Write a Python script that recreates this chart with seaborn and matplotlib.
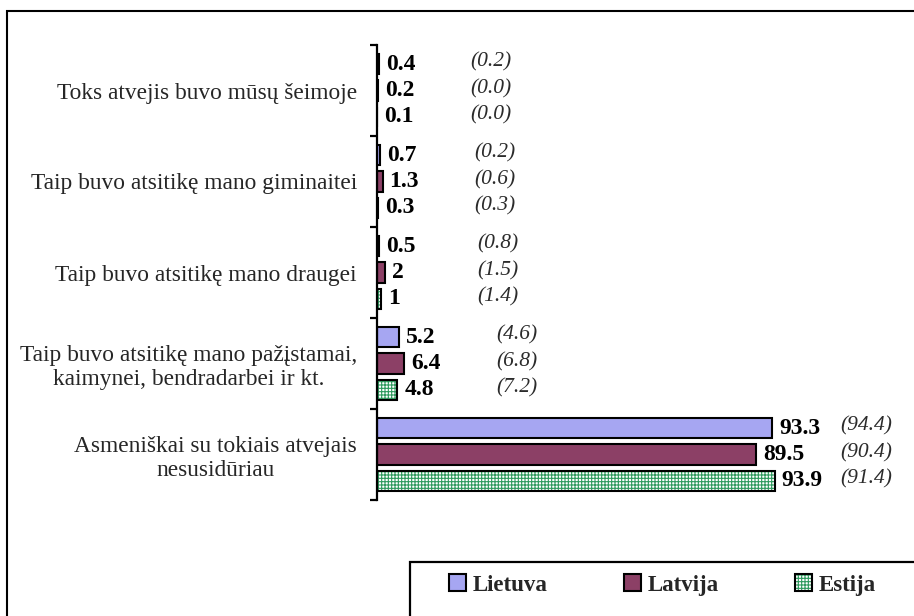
import matplotlib
matplotlib.use("Agg")
import matplotlib.pyplot as plt
from matplotlib.patches import Rectangle, Patch
from matplotlib.legend_handler import HandlerTuple
import seaborn as sns
import pandas as pd

categories = [
    "Toks atvejis buvo mūsų šeimoje",
    "Taip buvo atsitikę mano giminaitei",
    "Taip buvo atsitikę mano draugei",
    "Taip buvo atsitikę mano pažįstamai,\nkaimynei, bendradarbei ir kt.",
    "Asmeniškai su tokiais atvejais\nnesusidūriau",
]
countries = ["Lietuva", "Latvija", "Estija"]
lietuva = [0.4, 0.7, 0.5, 5.2, 93.3]
latvija = [0.2, 1.3, 2, 6.4, 89.5]
estija = [0.1, 0.3, 1, 4.8, 93.9]
prev_lietuva = [0.2, 0.2, 0.8, 4.6, 94.4]
prev_latvija = [0.0, 0.6, 1.5, 6.8, 90.4]
prev_estija = [0.0, 0.3, 1.4, 7.2, 91.4]

colors = {"Lietuva": "#9999FF", "Latvija": "#993366", "Estija": "#FFFFFF"}
hatch_green = "#2E9A5E"

sns.set_style("white")
plt.rcParams["font.family"] = ["Liberation Serif", "DejaVu Serif"]
plt.rcParams["hatch.linewidth"] = 0.8

rows = []
for c, vals in zip(countries, [lietuva, latvija, estija]):
    for cat, v in zip(categories, vals):
        rows.append({"category": cat, "country": c, "value": v})
df = pd.DataFrame(rows)

fig = plt.figure(figsize=(9.14, 6.16), dpi=100)
ax = fig.add_axes([377 / 914, 1 - 500 / 616, 423.4 / 914, 455 / 616])

sns.barplot(data=df, y="category", x="value", hue="country", orient="h",
            order=categories, hue_order=countries, palette=colors,
            width=0.86, gap=0.23, edgecolor="black", linewidth=1.5,
            ax=ax, legend=False)

ax.set_xlim(0, 100)
ax.set_ylim(len(categories) - 0.5, -0.5)

# Estija hatch: green grid with black outline
est_container = ax.containers[2]
for p in est_container.patches:
    p.set_facecolor("white")
    p.set_hatch("+++++")
    p.set_edgecolor(hatch_green)
    p.set_linewidth(0)
    ax.add_patch(Rectangle(p.get_xy(), p.get_width(), p.get_height(),
                           fill=False, ec="black", lw=1.5, zorder=p.get_zorder() + 0.1))

# value labels
for cont, vals in zip(ax.containers, [lietuva, latvija, estija]):
    ax.bar_label(cont, labels=[f"{v:g}" for v in vals], padding=5,
                 fontsize=17, fontweight="bold", color="black")

# previous values in parentheses, aligned per group after the longest bar
group_end = []
for i in range(len(categories)):
    group_end.append(max(c.patches[i].get_x() + c.patches[i].get_width()
                         for c in ax.containers[:3]))
for cont, prev in zip(ax.containers, [prev_lietuva, prev_latvija, prev_estija]):
    for i, (p, pv) in enumerate(zip(cont.patches, prev)):
        yc = p.get_y() + p.get_height() / 2
        off = 47.5 if group_end[i] > 50 else 66
        ax.annotate(f"({pv:.1f})", xy=(group_end[i], yc), xytext=(off, 1.5),
                    textcoords="offset points", ha="left", va="center",
                    fontsize=15.5, fontstyle="italic", color="#2b2b2b")

# axes styling
for s in ["top", "right", "bottom"]:
    ax.spines[s].set_visible(False)
ax.spines["left"].set_linewidth(1.6)
ax.spines["left"].set_color("black")
ax.set_xticks([])
ax.set_xlabel("")
ax.set_ylabel("")
ax.set_yticks(range(len(categories)))
ax.set_yticklabels(categories, fontsize=16.8, multialignment="center",
                   linespacing=1.2)
ax.tick_params(axis="y", which="major", length=0, pad=14.5)
ax.set_yticks([i - 0.5 for i in range(len(categories) + 1)], minor=True)
ax.tick_params(axis="y", which="minor", length=5, width=1.6, color="black",
               direction="out", left=True)

# outer frame
fig.patches.append(Rectangle((7 / 914, -0.1), 1.2, 1 - 11 / 616 + 0.1,
                             transform=fig.transFigure, fill=False,
                             ec="black", lw=1.5, zorder=0))
# legend box
fig.patches.append(Rectangle((410 / 914, -0.2), 1.0, 0.2 + 1 - 562 / 616,
                             transform=fig.transFigure, fill=False,
                             ec="black", lw=1.6, zorder=0))

# legend handles
handles = []
for i, c in enumerate(countries):
    src = ax.containers[i].patches[0]
    if c == "Estija":
        h1 = Patch(facecolor="white", hatch="+++++", edgecolor=hatch_green, lw=0)
        h2 = Patch(fill=False, edgecolor="black", lw=1.5)
        handles.append((h1, h2))
    else:
        handles.append(Patch(facecolor=src.get_facecolor(), edgecolor="black", lw=1.5))

fig.legend(handles, countries, loc="center left",
           bbox_to_anchor=(449 / 914, 1 - 585 / 616), bbox_transform=fig.transFigure,
           ncol=3, frameon=False, borderpad=0, borderaxespad=0,
           handlelength=0.75, handleheight=0.75, handletextpad=0.27,
           columnspacing=3.35,
           prop={"family": "Liberation Serif", "weight": "bold", "size": 16.5},
           handler_map={tuple: HandlerTuple(ndivide=1, pad=0)})

fig.savefig("out.png", dpi=100)
